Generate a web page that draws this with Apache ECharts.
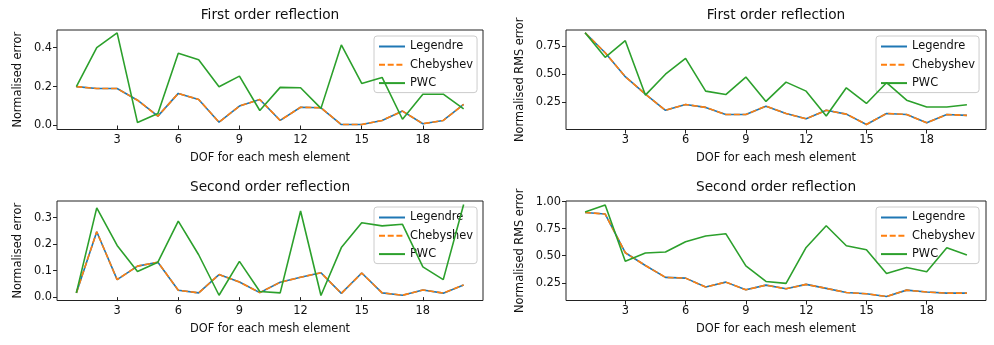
<!DOCTYPE html>
<html>
<head>
<meta charset="utf-8">
<script src="https://cdn.jsdelivr.net/npm/echarts@6/dist/echarts.min.js"></script>
<style>
html,body{margin:0;padding:0;background:#fff;}
#chart{width:994px;height:345px;}
</style>
</head>
<body>
<div id="chart"></div>
<script>
// ---- data ----
const dof = [1,2,3,4,5,6,7,8,9,10,11,12,13,14,15,16,17,18,19,20];
const seriesNames = ['Legendre', 'Chebyshev', 'PWC'];
const titles = ['First order reflection', 'First order reflection', 'Second order reflection', 'Second order reflection'];
const yNames = ['Normalised error', 'Normalised RMS error', 'Normalised error', 'Normalised RMS error'];
const xName = 'DOF for each mesh element';
const xTicks = [3, 6, 9, 12, 15, 18];

// panel 1: first order, normalised error
const p1Legendre  = [0.20,0.19,0.19,0.13,0.048,0.165,0.134,0.017,0.10,0.134,0.026,0.094,0.091,0.005,0.005,0.026,0.074,0.009,0.026,0.108];
const p1Chebyshev = [0.20,0.19,0.19,0.13,0.048,0.165,0.134,0.017,0.10,0.134,0.026,0.094,0.091,0.005,0.005,0.026,0.074,0.009,0.026,0.108];
const p1PWC       = [0.20,0.40,0.476,0.015,0.062,0.371,0.338,0.199,0.254,0.077,0.196,0.194,0.088,0.414,0.216,0.247,0.032,0.161,0.161,0.085];
const p1YTicks = [0.0, 0.2, 0.4];

// panel 2: first order, normalised RMS error
const p2Legendre  = [0.868,0.69,0.478,0.324,0.18,0.232,0.206,0.143,0.143,0.217,0.152,0.105,0.18,0.146,0.055,0.152,0.143,0.07,0.143,0.135];
const p2Chebyshev = [0.868,0.69,0.478,0.324,0.18,0.232,0.206,0.143,0.143,0.217,0.152,0.105,0.18,0.146,0.055,0.152,0.143,0.07,0.143,0.135];
const p2PWC       = [0.868,0.65,0.797,0.315,0.50,0.64,0.35,0.32,0.475,0.259,0.43,0.35,0.129,0.38,0.241,0.425,0.27,0.209,0.209,0.229];
const p2YTicks = [0.25, 0.50, 0.75];

// panel 3: second order, normalised error
const p3Legendre  = [0.016,0.247,0.066,0.117,0.132,0.026,0.016,0.085,0.057,0.017,0.056,0.075,0.092,0.014,0.091,0.016,0.007,0.027,0.015,0.046];
const p3Chebyshev = [0.016,0.247,0.066,0.117,0.132,0.026,0.016,0.085,0.057,0.017,0.056,0.075,0.092,0.014,0.091,0.016,0.007,0.027,0.015,0.046];
const p3PWC       = [0.016,0.337,0.195,0.097,0.132,0.287,0.16,0.007,0.135,0.021,0.016,0.325,0.006,0.187,0.281,0.269,0.275,0.114,0.066,0.35];
const p3YTicks = [0.0, 0.1, 0.2, 0.3];

// panel 4: second order, normalised RMS error
const p4Legendre  = [0.90,0.886,0.528,0.41,0.30,0.293,0.21,0.256,0.185,0.228,0.194,0.235,0.198,0.16,0.148,0.123,0.182,0.164,0.154,0.154];
const p4Chebyshev = [0.90,0.886,0.528,0.41,0.30,0.293,0.21,0.256,0.185,0.228,0.194,0.235,0.198,0.16,0.148,0.123,0.182,0.164,0.154,0.154];
const p4PWC       = [0.904,0.969,0.45,0.525,0.534,0.63,0.682,0.704,0.407,0.262,0.244,0.577,0.778,0.593,0.556,0.336,0.392,0.352,0.574,0.506];
const p4YTicks = [0.25, 0.50, 0.75, 1.00];

// ---- layout / style ----
const FONT = 'DejaVu Sans';
const TXT = '#111';
const colors = ['#1f77b4', '#ff7f0e', '#2ca02c'];
const panels = [
  {grid:{left:57, top:30, width:426, height:99.5}, ymin:-0.0206, ymax:0.491, ticks:p1YTicks, dec:1, nameGap:33, data:[p1Legendre,p1Chebyshev,p1PWC], titleX:270, titleY:8.5, legend:{left:374, top:36}},
  {grid:{left:566, top:30, width:420, height:99.5}, ymin:0.010, ymax:0.892, ticks:p2YTicks, dec:2, nameGap:40, data:[p2Legendre,p2Chebyshev,p2PWC], titleX:776, titleY:8.5, legend:{left:876, top:36}},
  {grid:{left:57, top:201, width:426, height:99.5}, ymin:-0.0128, ymax:0.363, ticks:p3YTicks, dec:1, nameGap:33, data:[p3Legendre,p3Chebyshev,p3PWC], titleX:270, titleY:180, legend:{left:374, top:207}},
  {grid:{left:566, top:201, width:420, height:99.5}, ymin:0.086, ymax:1.0065, ticks:p4YTicks, dec:2, nameGap:40, data:[p4Legendre,p4Chebyshev,p4PWC], titleX:776, titleY:180, legend:{left:876, top:207}}
];

const option = {
  animation: false,
  backgroundColor: '#fff',
  title: [], grid: [], xAxis: [], yAxis: [], legend: [], series: []
};

panels.forEach((p, i) => {
  option.title.push({
    text: titles[i], left: p.titleX, top: p.titleY, textAlign: 'center', padding: 0,
    textStyle: {fontFamily: FONT, fontSize: 13.7, fontWeight: 'normal', color: TXT}
  });
  option.grid.push(Object.assign({show: true, borderColor: '#222', borderWidth: 1, backgroundColor: 'transparent', containLabel: false}, p.grid));
  option.xAxis.push({
    type: 'value', gridIndex: i, min: 0.05, max: 20.95,
    name: xName, nameLocation: 'middle', nameGap: 23.5,
    nameTextStyle: {fontFamily: FONT, fontSize: 11.4, color: TXT},
    axisLine: {show: false},
    axisTick: {show: true, length: 4, customValues: xTicks, lineStyle: {color: '#222'}},
    axisLabel: {customValues: xTicks, margin: 5, fontFamily: FONT, fontSize: 11.4, color: TXT},
    splitLine: {show: false}
  });
  option.yAxis.push({
    type: 'value', gridIndex: i, min: p.ymin, max: p.ymax,
    name: yNames[i], nameLocation: 'middle', nameGap: p.nameGap, nameRotate: 90,
    nameTextStyle: {fontFamily: FONT, fontSize: 11.4, color: TXT},
    axisLine: {show: false},
    axisTick: {show: true, length: 4, customValues: p.ticks, lineStyle: {color: '#222'}},
    axisLabel: {customValues: p.ticks, margin: 5, fontFamily: FONT, fontSize: 11.4, color: TXT,
      formatter: v => Number(v).toFixed(p.dec)},
    splitLine: {show: false}
  });
  option.legend.push({
    data: seriesNames, orient: 'vertical', left: p.legend.left, top: p.legend.top,
    itemWidth: 26, itemHeight: 12, itemGap: 7.3, padding: [5, 4, 4, 4],
    backgroundColor: 'rgba(255,255,255,0.8)', borderColor: '#cccccc', borderWidth: 1, borderRadius: 3,
    itemStyle: {opacity: 0},
    lineStyle: {width: 2},
    textStyle: {fontFamily: FONT, fontSize: 11.4, color: TXT},
    selectedMode: false
  });
  seriesNames.forEach((nm, k) => {
    option.series.push({
      type: 'line', name: nm, xAxisIndex: i, yAxisIndex: i,
      data: dof.map((x, j) => [x, p.data[k][j]]),
      symbol: 'none', showSymbol: false,
      lineStyle: {color: colors[k], width: 1.6, type: k === 1 ? [6, 2.7] : 'solid'},
      itemStyle: {color: colors[k]},
      z: 2 + k
    });
  });
});

const chart = echarts.init(document.getElementById('chart'), null, {renderer: 'canvas'});
chart.setOption(option);
</script>
</body>
</html>
